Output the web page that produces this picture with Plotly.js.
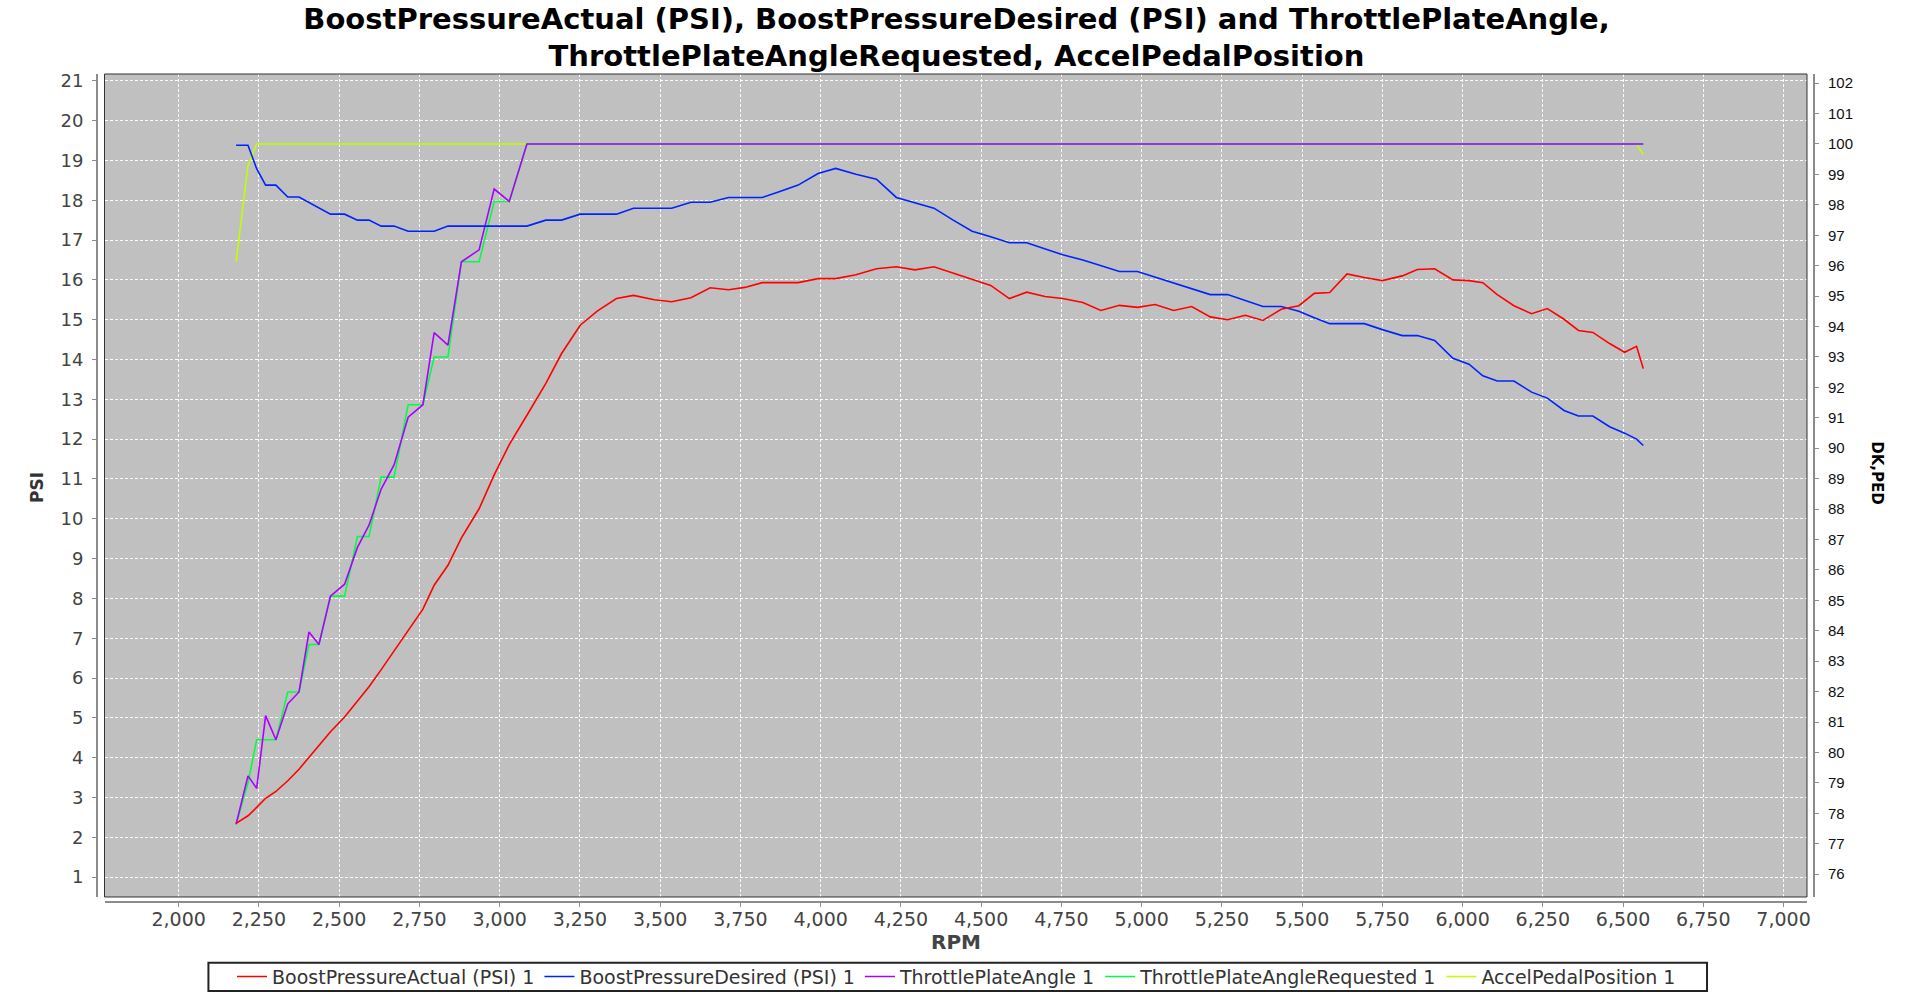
<!DOCTYPE html>
<html>
<head>
<meta charset="utf-8">
<script src="https://cdn.plot.ly/plotly-3.0.1.min.js"></script>
<style>
  html, body { margin: 0; padding: 0; background: #fff; }
  #chart { width: 1913px; height: 993px; }
</style>
</head>
<body>
<div id="chart"></div>
<script>
// samples, shared by all five channels
const rpm = [
  2179, 2216, 2243, 2271, 2303, 2340, 2375, 2406, 2437, 2473,
  2517, 2557, 2593, 2631, 2671, 2715, 2761, 2796, 2839, 2881,
  2936, 2983, 3030, 3085, 3144, 3193, 3251, 3305, 3364, 3417,
  3482, 3536, 3596, 3656, 3713, 3764, 3818, 3873, 3930, 3992,
  4047, 4110, 4174, 4236, 4294, 4353, 4413, 4472, 4530, 4588,
  4642, 4699, 4754, 4817, 4873, 4931, 4987, 5042, 5100, 5156,
  5214, 5268, 5323, 5378, 5435, 5490, 5538, 5586, 5640, 5694,
  5750, 5812, 5859, 5913, 5970, 6020, 6063, 6108, 6160, 6215,
  6264, 6316, 6361, 6406, 6458, 6505, 6542, 6563
];

// PSI (left axis)
const boostActual = [
  2.35, 2.54, 2.75, 2.98, 3.15, 3.42, 3.71, 4.0, 4.31, 4.65,
  5.02, 5.42, 5.78, 6.21, 6.67, 7.18, 7.73, 8.33, 8.83, 9.52,
  10.25, 11.1, 11.86, 12.6, 13.4, 14.15, 14.86, 15.22, 15.53, 15.61,
  15.5, 15.45, 15.55, 15.8, 15.75, 15.81, 15.93, 15.93, 15.93, 16.03,
  16.03, 16.13, 16.28, 16.33, 16.25, 16.33, 16.17, 16.01, 15.86, 15.53,
  15.69, 15.58, 15.53, 15.43, 15.23, 15.36, 15.31, 15.38, 15.23, 15.33,
  15.07, 15.0, 15.11, 14.98, 15.26, 15.35, 15.66, 15.68, 16.15, 16.06,
  15.98, 16.1, 16.26, 16.28, 16.0, 15.98, 15.93, 15.63, 15.35, 15.15,
  15.28, 15.01, 14.73, 14.68, 14.4, 14.18, 14.33, 13.77
];
const boostDesired = [
  19.38, 19.38, 18.79, 18.38, 18.38, 18.08, 18.08, 17.95, 17.8, 17.65,
  17.65, 17.5, 17.5, 17.35, 17.35, 17.22, 17.22, 17.22, 17.35, 17.35,
  17.35, 17.35, 17.35, 17.35, 17.5, 17.5, 17.65, 17.65, 17.65, 17.8,
  17.8, 17.8, 17.95, 17.95, 18.07, 18.07, 18.07, 18.22, 18.38, 18.67,
  18.8, 18.65, 18.53, 18.07, 17.93, 17.8, 17.5, 17.22, 17.08, 16.93,
  16.93, 16.78, 16.63, 16.5, 16.35, 16.21, 16.21, 16.07, 15.92, 15.78,
  15.63, 15.63, 15.48, 15.33, 15.33, 15.21, 15.05, 14.9, 14.9, 14.9,
  14.75, 14.6, 14.6, 14.48, 14.03, 13.88, 13.59, 13.46, 13.46, 13.18,
  13.03, 12.72, 12.58, 12.58, 12.31, 12.15, 12.0, 11.84
];

// DK,PED (right axis)
const throttleAngle = [
  77.64, 79.23, 78.82, 81.21, 80.42, 81.6, 81.99, 83.96, 83.55, 85.14,
  85.53, 86.74, 87.47, 88.66, 89.45, 91.02, 91.43, 93.8, 93.39, 96.13,
  96.52, 98.52, 98.11, 100, 100, 100, 100, 100, 100, 100,
  100, 100, 100, 100, 100, 100, 100, 100, 100, 100,
  100, 100, 100, 100, 100, 100, 100, 100, 100, 100,
  100, 100, 100, 100, 100, 100, 100, 100, 100, 100,
  100, 100, 100, 100, 100, 100, 100, 100, 100, 100,
  100, 100, 100, 100, 100, 100, 100, 100, 100, 100,
  100, 100, 100, 100, 100, 100, 100, 100
];
const throttleRequested = [
  77.64, 79.0, 80.42, 80.42, 80.42, 81.99, 81.99, 83.55, 83.55, 85.14,
  85.14, 87.1, 87.1, 89.05, 89.05, 91.43, 91.43, 93.0, 93.0, 96.13,
  96.13, 98.11, 98.11, 100, 100, 100, 100, 100, 100, 100,
  100, 100, 100, 100, 100, 100, 100, 100, 100, 100,
  100, 100, 100, 100, 100, 100, 100, 100, 100, 100,
  100, 100, 100, 100, 100, 100, 100, 100, 100, 100,
  100, 100, 100, 100, 100, 100, 100, 100, 100, 100,
  100, 100, 100, 100, 100, 100, 100, 100, 100, 100,
  100, 100, 100, 100, 100, 100, 100, 100
];
const pedalPosition = [
  96.13, 99.29, 100, 100, 100, 100, 100, 100, 100, 100,
  100, 100, 100, 100, 100, 100, 100, 100, 100, 100,
  100, 100, 100, 100, 100, 100, 100, 100, 100, 100,
  100, 100, 100, 100, 100, 100, 100, 100, 100, 100,
  100, 100, 100, 100, 100, 100, 100, 100, 100, 100,
  100, 100, 100, 100, 100, 100, 100, 100, 100, 100,
  100, 100, 100, 100, 100, 100, 100, 100, 100, 100,
  100, 100, 100, 100, 100, 100, 100, 100, 100, 100,
  100, 100, 100, 100, 100, 100, 100, 99.65
];

const rpmTicks = [2000, 2250, 2500, 2750, 3000, 3250, 3500, 3750, 4000, 4250, 4500,
  4750, 5000, 5250, 5500, 5750, 6000, 6250, 6500, 6750, 7000];
const psiTicks = [1, 2, 3, 4, 5, 6, 7, 8, 9, 10, 11, 12, 13, 14, 15, 16, 17, 18, 19, 20, 21];
const dkTicks = [76, 77, 78, 79, 80, 81, 82, 83, 84, 85, 86, 87, 88, 89, 90, 91, 92, 93,
  94, 95, 96, 97, 98, 99, 100, 101, 102];

const AXIS_GREY = '#8c8c8c';

const makeLine = (name, values, color, axis, rank) => ({
  type: 'scatter',
  mode: 'lines',
  name,
  x: rpm,
  y: values,
  yaxis: axis,
  legendrank: rank,
  line: { color, width: 1.6 },
  hoverinfo: 'skip',
});

// secondary channels first so the boost lines sit on top, like the original
const traces = [
  makeLine('AccelPedalPosition 1', pedalPosition, '#bfff00', 'y', 5),
  makeLine('ThrottlePlateAngleRequested 1', throttleRequested, '#00ff40', 'y', 4),
  makeLine('ThrottlePlateAngle 1', throttleAngle, '#aa00ff', 'y', 3),
  makeLine('BoostPressureDesired (PSI) 1', boostDesired, '#0022ff', 'y2', 2),
  makeLine('BoostPressureActual (PSI) 1', boostActual, '#ff0000', 'y2', 1),
];

const layout = {
  width: 1913,
  height: 993,
  margin: { l: 97, r: 99, t: 74, b: 91 },
  paper_bgcolor: '#ffffff',
  plot_bgcolor: '#c0c0c0',
  font: { family: 'DejaVu Sans, sans-serif', color: '#444' },
  title: {
    text: 'BoostPressureActual (PSI), BoostPressureDesired (PSI) and ThrottlePlateAngle,<br>ThrottlePlateAngleRequested, AccelPedalPosition',
    font: { size: 29, weight: 'bold', color: '#000' },
    x: 0.5, xref: 'container', xanchor: 'center',
    y: 0.971, yref: 'container', yanchor: 'top',
  },
  showlegend: true,
  // plotly's own legend box is too tall, the frame is drawn as a shape below
  legend: {
    orientation: 'h',
    x: 0.5, xref: 'container', xanchor: 'center',
    y: 0.0164, yref: 'container', yanchor: 'middle',
    bgcolor: 'rgba(0,0,0,0)',
    borderwidth: 0,
    font: { size: 19, color: '#333' },
  },
  xaxis: {
    domain: [0.00437, 0.99592],
    range: [1769, 7073],
    anchor: 'free', position: 0,
    showline: true, linecolor: AXIS_GREY, linewidth: 2,
    ticks: 'outside', ticklen: 4, tickcolor: AXIS_GREY,
    tickvals: rpmTicks, tickformat: ',d',
    tickfont: { size: 19, color: '#444' },
    ticklabelstandoff: -4,
    showgrid: true, gridcolor: '#ffffff', gridwidth: 1, griddash: '3px,2px',
    zeroline: false,
  },
  yaxis: {
    domain: [0.00604, 1],
    range: [75.25, 102.3],
    side: 'right', anchor: 'free', position: 1,
    showline: true, linecolor: AXIS_GREY, linewidth: 2,
    ticks: 'outside', ticklen: 4, tickcolor: AXIS_GREY,
    tickvals: dkTicks,
    tickfont: { family: 'Liberation Sans, sans-serif', size: 15, color: '#111' },
    ticklabelstandoff: 6,
    showgrid: false, zeroline: false,
  },
  yaxis2: {
    overlaying: 'y',
    range: [0.5, 21.17],
    side: 'left', anchor: 'free', position: 0,
    showline: true, linecolor: AXIS_GREY, linewidth: 2,
    ticks: 'outside', ticklen: 4, tickcolor: AXIS_GREY,
    tickvals: psiTicks,
    tickfont: { size: 18, color: '#444' },
    ticklabelstandoff: 5,
    showgrid: true, gridcolor: '#ffffff', gridwidth: 1, griddash: '3px,2px',
    zeroline: false,
  },
  shapes: [
    {
      type: 'rect', xref: 'x domain', yref: 'y domain',
      x0: 0, x1: 1, y0: 0, y1: 1,
      line: { color: '#333', width: 1 },
      layer: 'above',
    },
    {
      type: 'rect', xref: 'paper', yref: 'paper',
      x0: 0.0649, x1: 0.9377, y0: -0.1075, y1: -0.0733,
      line: { color: '#222', width: 2 },
      layer: 'above',
    },
  ],
  annotations: [
    { text: 'RPM', xref: 'paper', yref: 'paper', x: 0.5, y: -0.048,
      showarrow: false, yanchor: 'middle', font: { size: 20, weight: 'bold', color: '#444' } },
    { text: 'PSI', xref: 'paper', yref: 'paper', x: -0.0349, y: 0.5, textangle: -90,
      showarrow: false, xanchor: 'center', font: { size: 17, weight: 'bold', color: '#333' } },
    { text: 'DK,PED', xref: 'paper', yref: 'paper', x: 1.0367, y: 0.519, textangle: 90,
      showarrow: false, xanchor: 'center', font: { size: 15, weight: 'bold', color: '#000' } },
  ],
};

Plotly.newPlot('chart', traces, layout, { displayModeBar: false, staticPlot: true });
</script>
</body>
</html>
